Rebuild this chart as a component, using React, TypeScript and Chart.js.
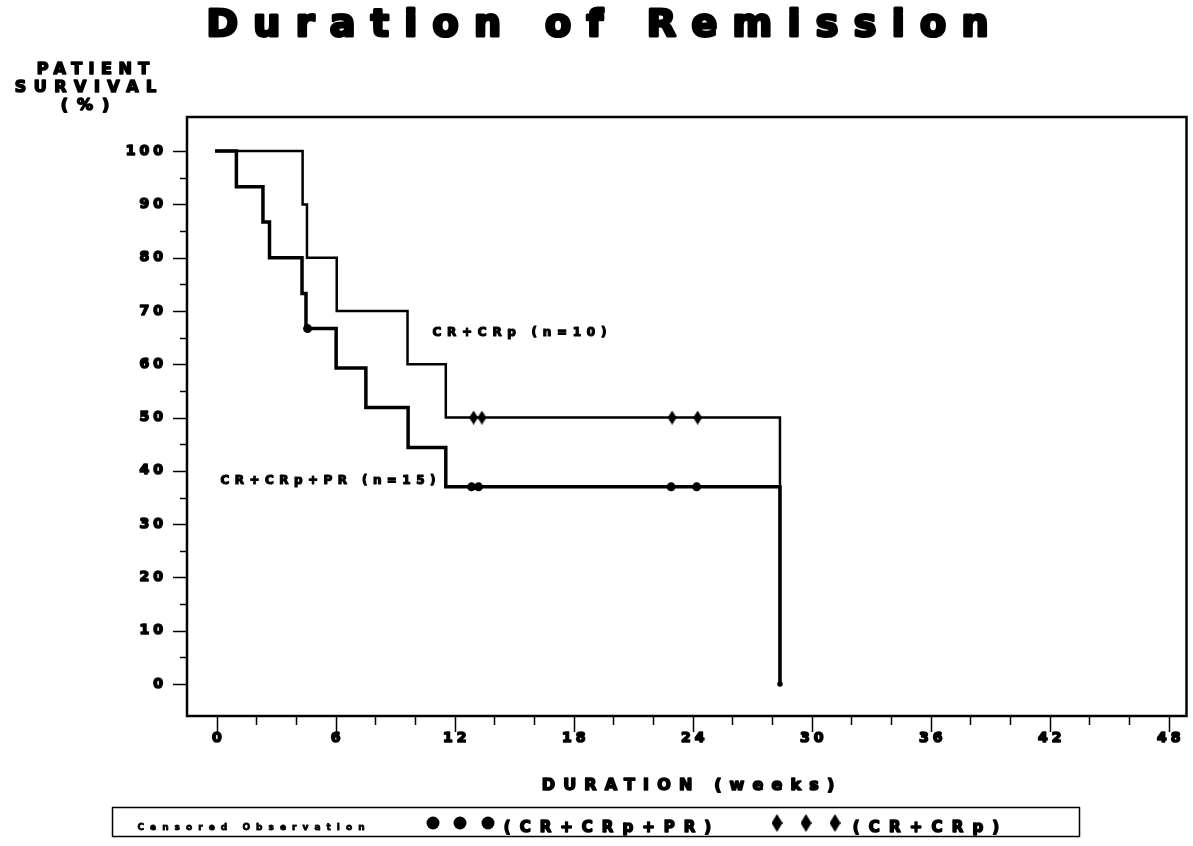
import React, { useEffect, useRef } from 'react';
import { Chart, registerables } from 'chart.js';

Chart.register(...registerables);

// ---- Data ----
const weeksCRp = [0, 4.33, 4.55, 6.05, 9.62, 11.55, 28.4];
const survivalCRp = [100, 90, 80, 70, 60, 50, 0];

const weeksAll = [0, 0.99, 2.33, 2.66, 4.3, 4.5, 6.02, 7.52, 9.65, 11.55, 28.4];
const survivalAll = [100, 93.3, 86.7, 80, 73.3, 66.7, 59.3, 51.9, 44.4, 37.0, 0];

const censoredCRpWeeks = [12.95, 13.37, 22.96, 24.25];
const censoredCRpSurvival = [50, 50, 50, 50];

const censoredAllWeeks = [4.58, 12.85, 13.2, 22.91, 24.2];
const censoredAllSurvival = [66.7, 37.0, 37.0, 37.0, 37.0];

const xMajorTicks = [0, 6, 12, 18, 24, 30, 36, 42, 48];
const xMinorStep = 2;
const yMajorTicks = [0, 10, 20, 30, 40, 50, 60, 70, 80, 90, 100];
const yMinorStep = 5;

const titleText = 'Duration of Remission';
const yTitleLines = ['PATIENT', 'SURVIVAL', '(%)'];
const xTitleText = 'DURATION (weeks)';
const labelCRp = 'CR+CRp (n=10)';
const labelAll = 'CR+CRp+PR (n=15)';
const legendCaption = 'Censored Observation';
const legendAll = '(CR+CRp+PR)';
const legendCRp = '(CR+CRp)';

const FONT = '"DejaVu Sans", sans-serif';

function makeDiamond(w: number, h: number): HTMLCanvasElement {
  const c = document.createElement('canvas');
  c.width = w;
  c.height = h;
  const g = c.getContext('2d')!;
  g.fillStyle = '#000';
  g.beginPath();
  g.moveTo(w / 2, 0);
  g.lineTo(w, h / 2);
  g.lineTo(w / 2, h);
  g.lineTo(0, h / 2);
  g.closePath();
  g.fill();
  return c;
}

function drawHeavy(ctx: CanvasRenderingContext2D, text: string, x: number, y: number, weight: number) {
  if (weight > 0) {
    ctx.lineWidth = weight;
    ctx.lineJoin = 'round';
    ctx.strokeText(text, x, y);
  }
  ctx.fillText(text, x, y);
}

function spacedText(ctx: CanvasRenderingContext2D, text: string, font: string, left: number, right: number, cy: number, weight = 1) {
  ctx.font = font;
  (ctx as any).letterSpacing = '0px';
  const w = ctx.measureText(text).width;
  const n = Array.from(text).length;
  const ls = n > 1 ? (right - left - weight - w) / (n - 1) : 0;
  (ctx as any).letterSpacing = ls + 'px';
  ctx.textAlign = 'left';
  ctx.textBaseline = 'middle';
  drawHeavy(ctx, text, left + weight / 2, cy, weight);
  (ctx as any).letterSpacing = '0px';
}

function fixedSpacedText(ctx: CanvasRenderingContext2D, text: string, font: string, ls: number, anchorX: number, cy: number, align: 'left' | 'center' | 'right', weight = 1) {
  ctx.font = font;
  (ctx as any).letterSpacing = '0px';
  const w = ctx.measureText(text).width;
  const n = Array.from(text).length;
  const total = w + (n - 1) * ls;
  let left = anchorX;
  if (align === 'center') left = anchorX - total / 2;
  if (align === 'right') left = anchorX - total;
  (ctx as any).letterSpacing = ls + 'px';
  ctx.textAlign = 'left';
  ctx.textBaseline = 'middle';
  drawHeavy(ctx, text, left, cy, weight);
  (ctx as any).letterSpacing = '0px';
}

export default function App() {
  const ref = useRef<HTMLCanvasElement | null>(null);

  useEffect(() => {
    if (!ref.current) return;
    const diamond = makeDiamond(9, 14);
    const legendDiamond = makeDiamond(11, 18);

    const decor = {
      id: 'decor',
      afterDraw(chart: any) {
        const ctx: CanvasRenderingContext2D = chart.ctx;
        const a = chart.chartArea;
        const xs = chart.scales.x;
        const ys = chart.scales.y;
        ctx.save();
        ctx.fillStyle = '#000';
        ctx.strokeStyle = '#000';

        // frame
        ctx.lineWidth = 2.5;
        ctx.strokeRect(a.left, a.top, a.right - a.left, a.bottom - a.top);

        // y ticks
        ctx.lineWidth = 1.5;
        for (let v = 0; v <= 100; v += yMinorStep) {
          const py = Math.round(ys.getPixelForValue(v)) + 0.5;
          const major = yMajorTicks.includes(v);
          ctx.beginPath();
          ctx.moveTo(a.left - (major ? 14 : 7), py);
          ctx.lineTo(a.left, py);
          ctx.stroke();
        }
        for (const v of yMajorTicks) {
          const py = ys.getPixelForValue(v);
          fixedSpacedText(ctx, String(v), `bold 14px ${FONT}`, 4, 163, py, 'right', 1.6);
        }

        // x ticks
        ctx.lineWidth = 1.5;
        for (let v = 0; v <= 48; v += xMinorStep) {
          const px = Math.round(xs.getPixelForValue(v)) + 0.5;
          const major = xMajorTicks.includes(v);
          ctx.beginPath();
          ctx.moveTo(px, a.bottom);
          ctx.lineTo(px, a.bottom + (major ? 16 : 9));
          ctx.stroke();
        }
        for (const v of xMajorTicks) {
          const px = xs.getPixelForValue(v);
          fixedSpacedText(ctx, String(v), `bold 14px ${FONT}`, 4, px, 738, 'center', 1.6);
        }

        // titles
        spacedText(ctx, titleText, `bold 38px ${FONT}`, 205, 990, 26, 3);
        spacedText(ctx, yTitleLines[0], `bold 16px ${FONT}`, 36, 150, 70, 1.6);
        spacedText(ctx, yTitleLines[1], `bold 16px ${FONT}`, 14, 157, 88, 1.6);
        spacedText(ctx, yTitleLines[2], `bold 16px ${FONT}`, 60, 110, 106, 1.6);
        spacedText(ctx, xTitleText, `bold 16px ${FONT}`, 541, 835, 786, 1.6);

        // curve labels
        spacedText(ctx, labelCRp, `bold 12px ${FONT}`, 432, 607, 333, 1.2);
        spacedText(ctx, labelAll, `bold 12px ${FONT}`, 220, 436, 481, 1.2);

        // legend box
        ctx.lineWidth = 1.5;
        ctx.strokeRect(112.5, 807.5, 967, 29);
        spacedText(ctx, legendCaption, `bold 9px ${FONT}`, 137, 365, 828, 0.8);
        for (const cx of [433, 460, 488]) {
          ctx.beginPath();
          ctx.arc(cx, 823, 6.5, 0, Math.PI * 2);
          ctx.fill();
        }
        spacedText(ctx, legendAll, `bold 15px ${FONT}`, 503, 712, 828, 1.6);
        for (const cx of [777, 806, 835]) {
          ctx.drawImage(legendDiamond, cx - 5.5, 823 - 9);
        }
        spacedText(ctx, legendCRp, `bold 15px ${FONT}`, 852, 1000, 828, 1.6);

        ctx.restore();
      },
    };

    const lastIdx = (arr: number[]) => arr.length - 1;

    const chart = new Chart(ref.current, {
      type: 'line',
      data: {
        datasets: [
          {
            label: 'CR+CRp (n=10)',
            data: weeksCRp.map((w, i) => ({ x: w, y: survivalCRp[i] })),
            stepped: 'before',
            borderColor: '#000',
            backgroundColor: '#000',
            borderWidth: 2.5,
            pointRadius: (c: any) => (c.dataIndex === lastIdx(weeksCRp) ? 1.5 : 0),
            fill: false,
          },
          {
            label: 'CR+CRp+PR (n=15)',
            data: weeksAll.map((w, i) => ({ x: w, y: survivalAll[i] })),
            stepped: 'before',
            borderColor: '#000',
            backgroundColor: '#000',
            borderWidth: 3.5,
            pointRadius: 0,
            fill: false,
          },
          {
            label: 'Censored (CR+CRp)',
            data: censoredCRpWeeks.map((w, i) => ({ x: w, y: censoredCRpSurvival[i] })),
            showLine: false,
            pointStyle: diamond as any,
            pointRadius: 5,
            backgroundColor: '#000',
            borderColor: '#000',
          },
          {
            label: 'Censored (CR+CRp+PR)',
            data: censoredAllWeeks.map((w, i) => ({ x: w, y: censoredAllSurvival[i] })),
            showLine: false,
            pointStyle: 'circle',
            pointRadius: 4.5,
            borderWidth: 0,
            backgroundColor: '#000',
            borderColor: '#000',
          },
        ],
      } as any,
      options: {
        animation: false,
        responsive: false,
        devicePixelRatio: 1,
        layout: { padding: { left: 187, top: 117, right: 3, bottom: 130 } },
        plugins: {
          legend: { display: false },
          tooltip: { enabled: false },
          title: { display: false },
        },
        scales: {
          x: { type: 'linear', min: -1.5, max: 48.9, display: false },
          y: { type: 'linear', min: -6, max: 106.4, display: false },
        },
        elements: { line: { borderCapStyle: 'square', borderJoinStyle: 'miter' } },
      } as any,
      plugins: [decor],
    });
    return () => chart.destroy();
  }, []);

  return (
    <div style={{ position: 'absolute', left: 0, top: 0, width: 1193, height: 846, background: '#fff' }}>
      <canvas ref={ref} width={1193} height={846} style={{ width: 1193, height: 846, display: 'block' }} />
    </div>
  );
}
